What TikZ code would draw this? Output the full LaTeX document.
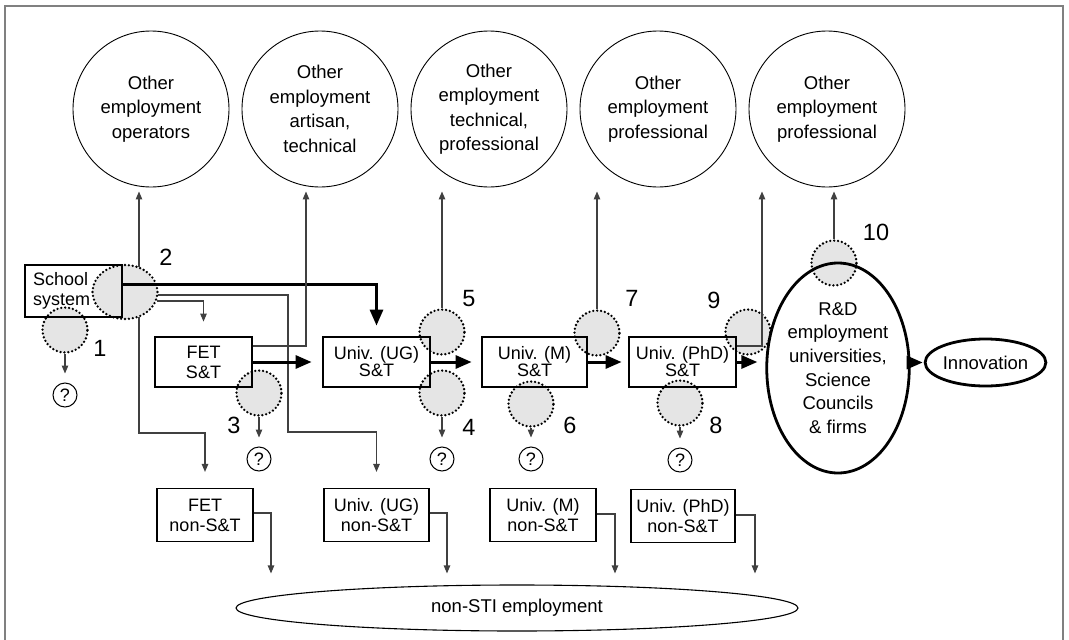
\documentclass[tikz,border=0pt]{standalone}
\usepackage{fontspec}
\setmainfont{Liberation Sans}
\usetikzlibrary{shapes.geometric,arrows.meta}
\newcommand\fsz[2]{\fontsize{#1}{#2}\selectfont}

\begin{document}
\begin{tikzpicture}[x=1pt,y=-1pt,
  frame/.style={draw=black!50,line width=1.5pt},
  emp/.style={circle,draw,line width=0.9pt,minimum size=156pt,inner sep=0pt,align=center,font=\fsz{18.5}{24.5}},
  stbox/.style={draw,line width=2.8pt,inner sep=0pt,align=center,minimum height=50pt,font=\fsz{18}{17}},
  nbox/.style={draw,line width=1.2pt,inner sep=0pt,align=center,minimum height=53pt,font=\fsz{18}{20}},
  leak/.style={circle,fill=gray!20,draw,line width=2.6pt,dash pattern=on 0pt off 3.9pt,line cap=round,minimum size=45pt,inner sep=0pt},
  qmark/.style={circle,draw,line width=1pt,minimum size=24pt,inner sep=0pt,font=\fsz{18}{18}},
  num/.style={inner sep=0pt,font=\fsz{23.5}{23.5}},
  flow/.style={draw=black!75,line width=1.1pt,-{Triangle[length=8pt,width=6.5pt]}},
  main/.style={draw=black,line width=3pt,-{Triangle[length=16pt,width=13pt]}},
]
\useasboundingbox (0,0) rectangle (1069,640);
\draw[frame] (5,640) -- (5,6) -- (1063,6) -- (1063,640);

% other employment destinations
\node[emp] (o1) at (151,109) {Other\\employment\\operators};
\node[emp] (o2) at (320,109) {Other\\employment\\artisan,\\technical};
\node[emp] (o3) at (489,109) {Other\\employment\\technical,\\professional};
\node[emp] (o4) at (658,109) {Other\\employment\\professional};
\node[emp] (o5) at (827,109) {Other\\employment\\professional};

% leakage points (drawn first so borders show on top)
\node[leak] (dc1) at (65,330) {};
\node[leak,ellipse,minimum width=65pt,minimum height=54pt] (dc2) at (125,292) {};
\node[leak] (dc3) at (259,393) {};
\node[leak] (dc4) at (442,393) {};
\node[leak] (dc5) at (442,332) {};
\node[leak] (dc6) at (531,404) {};
\node[leak] (dc7) at (597,333) {};
\node[leak] (dc8) at (680,403) {};
\node[leak] (dc9) at (748,332) {};
\node[leak] (dc10) at (834,263) {};

% S&T pipeline
\node[stbox,minimum width=97pt,minimum height=52pt,text width=81pt,inner xsep=8pt,align=left,font=\fsz{18}{20}] (school) at (73.5,291) {School\\system};
\node[stbox,minimum width=97pt,font=\fsz{18}{20}] (fet) at (203.5,362) {FET\\S\&T};
\node[stbox,minimum width=107pt] (ug) at (376.5,362) {Univ. (UG)\\S\&T};
\node[stbox,minimum width=105pt] (m) at (534.5,362) {Univ. (M)\\S\&T};
\node[stbox,minimum width=107pt] (phd) at (682.5,362) {Univ. (PhD)\\S\&T};
\node[ellipse,draw,line width=2.8pt,minimum width=130pt,minimum height=210pt,inner sep=0pt,align=center,font=\fsz{18.5}{23.7}] (rd) at (838,368) {R\&D\\employment\\universities,\\Science\\Councils\\\& firms};
\node[ellipse,draw,line width=2.8pt,minimum width=115pt,minimum height=47pt,inner sep=0pt,font=\fsz{18.5}{20}] (inno) at (985.5,362.5) {Innovation};

% non-S&T streams
\node[nbox,minimum width=96pt] (fetn) at (205,515) {FET\\non-S\&T};
\node[nbox,minimum width=105pt] (ugn) at (376.5,515) {Univ. (UG)\\non-S\&T};
\node[nbox,minimum width=106pt] (mn) at (543,515) {Univ. (M)\\non-S\&T};
\node[nbox,minimum width=104pt] (phdn) at (683,516) {Univ. (PhD)\\non-S\&T};
\node[ellipse,draw,line width=1.1pt,minimum width=562pt,minimum height=46pt,inner sep=0pt,font=\fsz{18.5}{20}] (nsti) at (517,608) {non-STI employment};

% unknown destinations
\node[qmark] (q1) at (65,395) {?};
\node[qmark] (q3) at (259,459) {?};
\node[qmark] (q4) at (442,459) {?};
\node[qmark] (q6) at (531,459) {?};
\node[qmark] (q8) at (680,460) {?};

% leakage point numbers
\node[num] (n1) at (100,348) {1};
\node[num] (n2) at (166,257) {2};
\node[num] (n3) at (234,425) {3};
\node[num] (n4) at (469,427) {4};
\node[num] (n5) at (469,299) {5};
\node[num] (n6) at (570,425) {6};
\node[num] (n7) at (632,298) {7};
\node[num] (n8) at (716,425) {8};
\node[num] (n9) at (714,300) {9};
\node[num] (n10) at (876,232) {10};

% flows out of the school system
\draw[main,shorten >=10pt] ([yshift=7pt]school.east) -| (ug.north);
\draw[flow,shorten >=4pt] ([xshift=14pt,yshift=-3pt]dc2.north) -- ([xshift=-12pt]o1.south);
\draw[flow,shorten >=14pt] ([xshift=-2pt,yshift=-9pt]dc2.east) -| (fet.north);
\draw[flow,shorten >=16pt] ([xshift=-1pt,yshift=-3pt]dc2.east) -| (288,432) -| (ugn.north);
\draw[flow,shorten >=16pt] ([xshift=14pt,yshift=3pt]dc2.south) -- (139,433) -| (fetn.north);
\draw[flow,shorten >=9pt] (dc1.south) -- (q1.north);

% FET
\draw[flow,shorten >=4pt] ([yshift=16pt]fet.east) -| ([xshift=-14pt]o2.south);
\draw[main,shorten >=10pt] (fet.east) -- (ug.west);
\draw[flow,shorten >=9pt] (dc3.south) -- (q3.north);

% undergraduate
\draw[flow,shorten >=4pt] (dc5.north) -- (dc5.north |- o3.south);
\draw[main,shorten >=9pt] (ug.east) -- (m.west);
\draw[flow,shorten >=9pt] (dc4.south) -- (q4.north);

% masters
\draw[flow,shorten >=4pt] (dc7.north) -- (dc7.north |- o4.south);
\draw[main,shorten >=6pt] (m.east) -- (phd.west);
\draw[flow,shorten >=9pt] (dc6.south) -- (q6.north);

% doctoral
\draw[flow,shorten >=4pt] ([yshift=16pt]phd.east) -| ([xshift=-65pt]o5.south);
\draw[main,shorten >=8pt] (phd.east) -- (phd.east -| rd.west);
\draw[flow,shorten >=9pt] (dc8.south) -- (q8.north);

% R&D
\draw[flow,shorten >=4pt] (dc10.north) -- (dc10.north |- o5.south);
\draw[main,shorten >=1pt] (inno.west -| rd.east) -- (inno.west);

% non-S&T to non-STI employment
\draw[flow,shorten >=11pt] ([yshift=2pt]fetn.east) -| ([xshift=-246pt]nsti.north);
\draw[flow,shorten >=11pt] ([yshift=2pt]ugn.east) -| ([xshift=-70pt]nsti.north);
\draw[flow,shorten >=11pt] ([yshift=1pt]mn.east) -| ([xshift=98pt]nsti.north);
\draw[flow,shorten >=11pt] ([yshift=1pt]phdn.east) -| ([xshift=238pt]nsti.north);
\end{tikzpicture}
\end{document}
